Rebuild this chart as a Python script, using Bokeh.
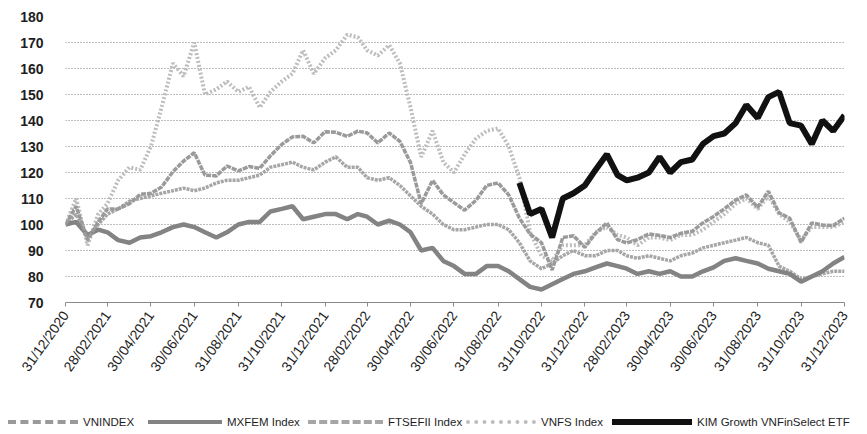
import pandas as pd
from bokeh.plotting import figure
from bokeh.layouts import column
from bokeh.models import (ColumnDataSource, FixedTicker, Range1d, Div,
                          DatetimeTickFormatter)
from bokeh.embed import file_html
from bokeh.resources import INLINE

# ---------------- data (semi-monthly readings, index base 100 = 31/12/2020) ----------------
DATES = ["2020-12-31"] + [
    d for y in (2021, 2022, 2023) for m in range(1, 13)
    for d in (f"{y}-{m:02d}-15", (pd.Timestamp(y, m, 1) + pd.offsets.MonthEnd(0)).strftime("%Y-%m-%d"))
]

VNINDEX = [100, 107, 94, 101, 106, 106, 108, 111.6, 112, 114.4, 120.3, 124.4, 127.6, 119, 118.7,
           122.5, 120.6, 122.3, 121.6, 126.4, 130.8, 133.7, 133.9, 131.4, 135.7, 135.5, 133.9,
           135.9, 135.2, 131.4, 135.2, 132, 123.8, 108, 117, 111.4, 108.4, 105.5, 109.3, 115,
           116, 111.4, 102.5, 96.3, 93, 82.5, 95, 95.7, 91.2, 96.6, 100.6, 94.2, 92.9, 94.2,
           96.4, 95.8, 95, 96.6, 97.4, 100.6, 103.1, 106, 109.4, 111.4, 106.6, 112.8, 104.5,
           102.4, 93.1, 100.6, 99.8, 99.6, 102.4]

MXFEM = [100, 101, 96, 98, 97, 94, 93, 95, 95.5, 97, 99, 100, 99, 97, 95, 97, 100, 101, 101,
         105, 106, 107, 102, 103, 104, 104, 102, 104, 103, 100, 101.5, 100, 97, 90, 91, 86, 84,
         81, 81, 84, 84, 82, 79, 76, 75, 77, 79, 81, 82, 83.5, 85, 84, 83, 81, 82, 81, 82, 80,
         80, 82, 83.5, 86, 87, 86, 85, 83, 82, 81, 78, 80, 82, 85, 87.5]

FTSEFII = [100, 104, 95, 100, 104, 106, 109, 110, 111, 112, 113, 114, 113, 114, 116, 117, 117,
           118, 119, 122, 123, 124, 122, 121, 124, 126, 122, 122, 118, 117, 118, 115, 111, 107,
           104, 100, 98, 98, 99, 100, 100, 98, 93, 86, 83, 85, 88, 90, 88, 88, 90, 90, 88, 87,
           88, 87, 86, 88, 89, 91, 92, 93, 94, 95, 93, 92, 84, 82, 79, 80, 81, 82, 82]

VNFS = [100, 110, 92, 104, 108, 117, 122, 121, 130, 145, 162, 157, 170, 150, 152, 155, 151, 153,
        145, 151, 155, 158, 167, 158, 164, 167, 173, 172, 167, 165, 169, 162, 145, 126, 136, 124,
        120, 127, 133, 136, 137, 130, 118, 97, 88, 86, 92, 92, 92, 97, 99, 96, 95, 92, 95, 95,
        94, 96, 96, 98, 101, 104, 108, 110, 106, 111, 104, 101, 94, 99, 99, 99, 101]

KIM_START = 42  # first reading of the ETF (30/09/2022)
KIM = [116, 104, 106, 95, 110, 112, 115, 121, 127, 119, 117, 118, 120, 126, 120, 124, 125, 131,
       134, 135, 139, 146, 141, 149, 151, 139, 138, 131, 140, 136, 142]

TICK_DATES = ["2020-12-31", "2021-02-28", "2021-04-30", "2021-06-30", "2021-08-31", "2021-10-31",
              "2021-12-31", "2022-02-28", "2022-04-30", "2022-06-30", "2022-08-31", "2022-10-31",
              "2022-12-31", "2023-02-28", "2023-04-30", "2023-06-30", "2023-08-31", "2023-10-31",
              "2023-12-31"]
TICK_LABELS = ["31/12/2020", "28/02/2021", "30/04/2021", "30/06/2021", "31/08/2021", "31/10/2021",
               "31/12/2021", "28/02/2022", "30/04/2022", "30/06/2022", "31/08/2022", "31/10/2022",
               "31/12/2022", "28/02/2023", "30/04/2023", "30/06/2023", "31/08/2023", "31/10/2023",
               "31/12/2023"]
Y_TICKS = [70, 80, 90, 100, 110, 120, 130, 140, 150, 160, 170, 180]

SERIES_NAMES = ["VNINDEX", "MXFEM Index", "FTSEFII Index", "VNFS Index", "KIM Growth VNFinSelect ETF"]

# ---------------- styles ----------------
FONT = "Liberation Sans"
STYLES = {
    "vnfs": dict(line_color="#bdbdbd", line_width=4, line_dash="2 2"),
    "ftse": dict(line_color="#a6a6a6", line_width=3.5, line_dash="3 1"),
    "mxfem": dict(line_color="#838383", line_width=4.5),
    "vnindex": dict(line_color="#9a9a9a", line_width=3.5, line_dash="5 1"),
    "kim": dict(line_color="#111111", line_width=6),
}

# ---------------- main chart ----------------
dates = pd.to_datetime(DATES)
src = ColumnDataSource(dict(date=dates, vnindex=VNINDEX, mxfem=MXFEM, ftse=FTSEFII, vnfs=VNFS))
kim_src = ColumnDataSource(dict(date=dates[KIM_START:KIM_START + len(KIM)], kim=KIM))

p = figure(width=867, height=400, x_axis_type="datetime", output_backend="svg",
           toolbar_location=None,
           x_range=Range1d(pd.Timestamp(TICK_DATES[0]), pd.Timestamp(TICK_DATES[-1])),
           y_range=Range1d(70, 180),
           min_border_left=65, min_border_right=23, min_border_top=16, min_border_bottom=98)
p.outline_line_color = None

p.line("date", "vnfs", source=src, **STYLES["vnfs"])
p.line("date", "ftse", source=src, **STYLES["ftse"])
p.line("date", "mxfem", source=src, **STYLES["mxfem"])
p.line("date", "vnindex", source=src, **STYLES["vnindex"])
p.line("date", "kim", source=kim_src, **STYLES["kim"])

tick_ms = [pd.Timestamp(d).value // 10**6 for d in TICK_DATES]
p.xaxis.ticker = FixedTicker(ticks=tick_ms)
p.xaxis.formatter = DatetimeTickFormatter(days="%d/%m/%Y", months="%d/%m/%Y", years="%d/%m/%Y")
p.xaxis.major_label_overrides = {t: lab for t, lab in zip(tick_ms, TICK_LABELS)}
p.xaxis.major_label_orientation = 0.95
p.xaxis.major_label_text_font = FONT
p.xaxis.major_label_text_font_size = "14px"
p.xaxis.major_label_text_color = "#1e1e1e"
p.xaxis.major_label_standoff = 6
p.xaxis.axis_line_color = "#8a8a8a"
p.xaxis.major_tick_line_color = "#8a8a8a"
p.xaxis.major_tick_out = 4
p.xaxis.major_tick_in = 0
p.xaxis.minor_tick_line_color = None
p.xgrid.grid_line_color = None

p.yaxis.ticker = FixedTicker(ticks=Y_TICKS)
p.yaxis.axis_line_color = None
p.yaxis.major_tick_line_color = None
p.yaxis.minor_tick_line_color = None
p.yaxis.major_label_text_font = FONT
p.yaxis.major_label_text_font_size = "14px"
p.yaxis.major_label_text_font_style = "bold"
p.yaxis.major_label_text_color = "#1e1e1e"
p.yaxis.major_label_standoff = 16
p.ygrid.grid_line_color = "#7a7a7a"
p.ygrid.grid_line_dash = "1 2"
p.ygrid.grid_line_width = 1

# ---------------- legend strip (HTML) ----------------
LEGEND_KEYS = ["vnindex", "mxfem", "ftse", "vnfs", "kim"]
LEGEND_BORDER = {"vnindex": "dashed", "mxfem": "solid", "ftse": "dashed", "vnfs": "dotted", "kim": "solid"}
LEGEND_LEFT = [8, 148, 308, 466, 612]
LEGEND_SWATCH = [70, 74, 75, 70, 80]
parts = []
for name, key, left, sw in zip(SERIES_NAMES, LEGEND_KEYS, LEGEND_LEFT, LEGEND_SWATCH):
    st = STYLES[key]
    bw = int(round(st["line_width"]))
    parts.append(
        f'<div style="position:absolute;left:{left}px;top:14px;white-space:nowrap;'
        f'font-family:\'{FONT}\';font-size:11.5px;color:#1e1e1e;line-height:14px;">'
        f'<span style="display:inline-block;vertical-align:middle;width:{sw}px;height:0;'
        f'border-top:{bw}px {LEGEND_BORDER[key]} {st["line_color"]};margin-right:5px;"></span>'
        f'<span style="vertical-align:middle;">{name}</span></div>'
    )
legend_div = Div(text='<div style="position:relative;width:867px;height:34px;">' + "".join(parts) + "</div>",
                 width=867, height=34, margin=0)

layout = column(p, legend_div, spacing=0)
open("out.html", "w").write(file_html(layout, INLINE))
